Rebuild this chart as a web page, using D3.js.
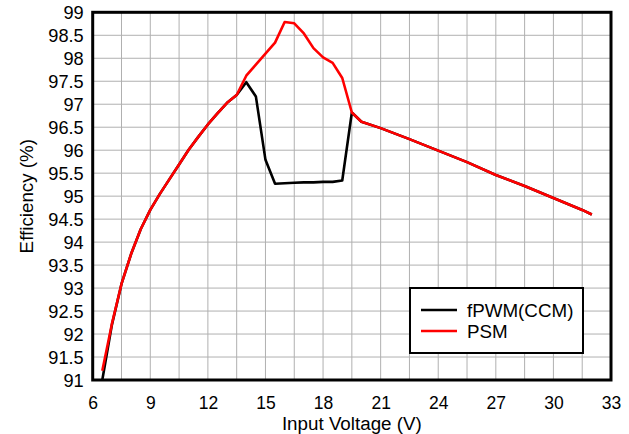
<!DOCTYPE html>
<html>
<head>
<meta charset="utf-8">
<script src="https://cdn.jsdelivr.net/npm/d3@7"></script>
<style>
  html, body { margin: 0; padding: 0; background: #fff; }
  svg { display: block; font-family: "Liberation Sans", Arial, sans-serif; }
</style>
</head>
<body>
<svg id="chart" width="629" height="434"></svg>
<script>
// Input voltage (V) sample points
const voltage = [6.5, 7, 7.5, 8, 8.5, 9, 9.5, 10, 10.5, 11, 11.5, 12, 12.5, 13, 13.5,
  14, 14.5, 15, 15.5, 16, 16.5, 17, 17.5, 18, 18.5, 19, 19.5, 20, 21, 22.5, 24,
  25.5, 27, 28.5, 30, 31.5, 32];

// Efficiency (%) in forced PWM (CCM) mode
const effFPWM = [91.0, 92.2, 93.09, 93.74, 94.28, 94.7, 95.05, 95.37, 95.69, 96.01, 96.29, 96.56, 96.8, 97.03, 97.2,
  97.48, 97.17, 95.79, 95.27, 95.28, 95.29, 95.3, 95.3, 95.31, 95.31, 95.34, 96.82, 96.62, 96.48, 96.24, 95.99,
  95.74, 95.46, 95.22, 94.96, 94.7, 94.6];

// Efficiency (%) in power-save mode
const effPSM = [91.2, 92.22, 93.09, 93.74, 94.28, 94.7, 95.05, 95.37, 95.69, 96.01, 96.29, 96.56, 96.8, 97.03, 97.2,
  97.62, 97.86, 98.1, 98.34, 98.79, 98.76, 98.54, 98.22, 98.02, 97.9, 97.57, 96.82, 96.62, 96.48, 96.24, 95.99,
  95.74, 95.46, 95.22, 94.96, 94.7, 94.6];

const xTicks = [6, 9, 12, 15, 18, 21, 24, 27, 30, 33];
const yTicks = [91, 91.5, 92, 92.5, 93, 93.5, 94, 94.5, 95, 95.5, 96, 96.5, 97, 97.5, 98, 98.5, 99];
const xGrid = d3.range(7.5, 33, 1.5);
const seriesNames = ["fPWM(CCM)", "PSM"];
const seriesColors = ["#000000", "#ff0000"];

const svg = d3.select("#chart");
const plotL = 92.7, plotR = 611, plotT = 12.3, plotB = 380;

const x = d3.scaleLinear().domain([6, 33]).range([plotL, plotR]);
const y = d3.scaleLinear().domain([91, 99]).range([plotB, plotT]);

// grid
const grid = svg.append("g").attr("stroke", "#b0b0b0").attr("stroke-width", 1);
grid.selectAll("line.v").data(xGrid).join("line")
  .attr("x1", d => x(d)).attr("x2", d => x(d))
  .attr("y1", plotT).attr("y2", plotB);
grid.selectAll("line.h").data(yTicks.filter(t => t > 91 && t < 99)).join("line")
  .attr("x1", plotL).attr("x2", plotR)
  .attr("y1", d => y(d)).attr("y2", d => y(d));

// curves
const line = d3.line().x(d => x(d[0])).y(d => y(d[1]));
svg.append("clipPath").attr("id", "plotClip")
  .append("rect").attr("x", plotL).attr("y", plotT).attr("width", plotR - plotL).attr("height", plotB - plotT);
const series = [effFPWM, effPSM];
series.forEach((vals, i) => {
  svg.append("path")
    .attr("clip-path", "url(#plotClip)")
    .datum(voltage.map((v, k) => [v, vals[k]]))
    .attr("d", line)
    .attr("fill", "none")
    .attr("stroke", seriesColors[i])
    .attr("stroke-width", 2.6)
    .attr("stroke-linejoin", "round");
});

// frame
svg.append("rect")
  .attr("x", plotL).attr("y", plotT)
  .attr("width", plotR - plotL).attr("height", plotB - plotT)
  .attr("fill", "none").attr("stroke", "#000").attr("stroke-width", 3);

// axes (labels only; frame draws the spines)
const xAxis = d3.axisBottom(x).tickValues(xTicks).tickSize(0).tickPadding(0).tickFormat(d3.format("d"));
const gx = svg.append("g").attr("transform", `translate(0,${plotB})`).call(xAxis);
gx.select(".domain").remove();
gx.selectAll("text").attr("font-size", 17.5).attr("fill", "#000")
  .attr("font-family", "Liberation Sans, Arial, sans-serif")
  .attr("dy", null).attr("y", 29);

const yAxis = d3.axisLeft(y).tickValues(yTicks).tickSize(0).tickPadding(9).tickFormat(d => d3.format("")(d));
const gy = svg.append("g").attr("transform", `translate(${plotL},0)`).call(yAxis);
gy.select(".domain").remove();
gy.selectAll("text").attr("font-size", 18.2).attr("fill", "#000")
  .attr("font-family", "Liberation Sans, Arial, sans-serif")
  .attr("dy", "0.36em");

// axis titles
svg.append("text")
  .attr("x", (plotL + plotR) / 2).attr("y", 430)
  .attr("text-anchor", "middle").attr("font-size", 18.8).text("Input Voltage (V)");
svg.append("text")
  .attr("transform", `translate(33,${(plotT + plotB) / 2}) rotate(-90)`)
  .attr("text-anchor", "middle").attr("font-size", 18.8).text("Efficiency (%)");

// legend
const lg = svg.append("g");
lg.append("rect").attr("x", 410).attr("y", 288).attr("width", 173).attr("height", 65)
  .attr("fill", "#fff").attr("stroke", "#000").attr("stroke-width", 2);
seriesNames.forEach((name, i) => {
  const ly = 310 + i * 21;
  lg.append("line").attr("x1", 421).attr("x2", 457).attr("y1", ly).attr("y2", ly)
    .attr("stroke", seriesColors[i]).attr("stroke-width", 2.6);
  lg.append("text").attr("x", 467).attr("y", ly).attr("dy", "0.36em")
    .attr("font-size", 18.8).text(name);
});
</script>
</body>
</html>
